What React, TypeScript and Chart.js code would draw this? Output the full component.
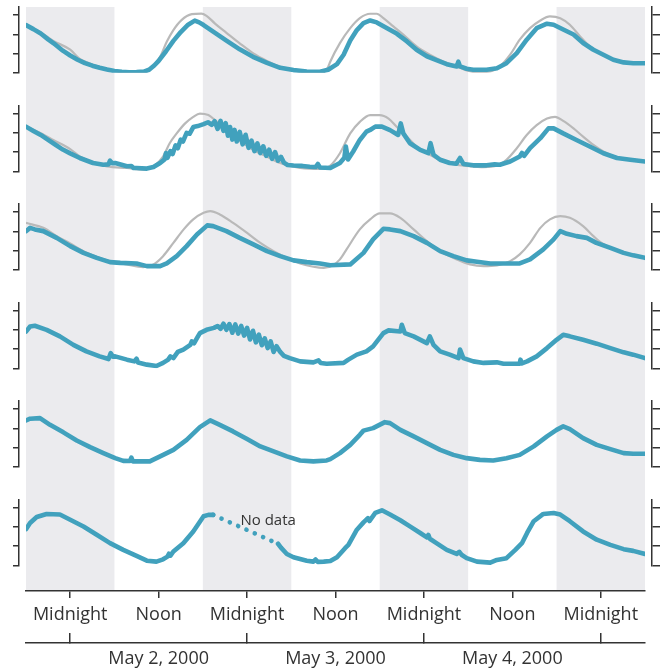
import React, { useEffect, useRef } from 'react';
import { Chart, registerables } from 'chart.js';

Chart.register(...registerables);

// ---------- data (hours from May 2, 2000 00:00; values in panel units) ----------
const HOUR_MIN = -6;
const HOUR_MAX = 78;
const TIME_TICKS = [0, 12, 24, 36, 48, 60, 72];
const TIME_LABELS = ['Midnight', 'Noon', 'Midnight', 'Noon', 'Midnight', 'Noon', 'Midnight'];
const DAY_BOUNDARIES = [0, 24, 48, 72];
const DATE_TICKS = [12, 36, 60];
const DATE_LABELS = ['May 2, 2000', 'May 3, 2000', 'May 4, 2000'];
const NIGHTS = [[-6, 6], [18, 30], [42, 54], [66, 78]];
const PANEL_TICKS = [0, 1, 2, 3];
const PANEL_MAX = 3.42;
const NO_DATA_TEXT = 'No data';
const NO_DATA_AT = [23.1, 2.3];

const P1_TEAL = [[-6,2.48],[-5,2.27],[-4,2.04],[-3,1.74],[-2,1.46],[-1,1.15],[0,0.9],[1,0.68],[2,0.5],[3,0.37],[4,0.26],[5,0.17],[6,0.09],[7,0.05],[8,0.03],[9,0.04],[10,0.06],[10.7,0.16],[11.4,0.38],[12,0.62],[13,1.12],[14,1.66],[15,2.12],[16,2.5],[16.9,2.71],[17.5,2.62],[18.1,2.48],[19.4,2.14],[21.2,1.67],[23,1.22],[24.8,0.83],[26.7,0.52],[28.5,0.26],[30.3,0.14],[32.1,0.07],[33.9,0.05],[35,0.16],[36.2,0.45],[37.1,0.94],[38,1.68],[38.9,2.22],[39.8,2.58],[40.7,2.72],[41.6,2.62],[43,2.32],[44.3,2.04],[45.7,1.63],[47,1.2],[48.4,0.86],[49.7,0.66],[51.1,0.45],[52.45,0.33],[52.67,0.58],[52.9,0.33],[53.8,0.21],[54.7,0.16],[56.5,0.16],[57.9,0.24],[59.2,0.5],[60.6,1.02],[61.95,1.72],[63.3,2.32],[64.7,2.55],[65.6,2.5],[66.9,2.25],[68.3,1.99],[69.6,1.55],[71,1.2],[72.35,0.94],[73.7,0.68],[75.1,0.54],[76.4,0.5],[78,0.5]];
const P1_GREY = [[-6,2.5],[-4,2.1],[-2.3,1.66],[0,1.2],[1.3,0.72],[3.1,0.42],[5,0.19],[6.5,0.06],[7.7,0],[9.9,0.02],[11,0.23],[12.2,0.83],[13.1,1.61],[14,2.22],[15.1,2.74],[16.5,3.05],[17.8,3.08],[18.5,2.96],[19.65,2.56],[21.2,2.08],[23,1.53],[24.85,1.01],[26.7,0.62],[28.5,0.31],[30.3,0.14],[32.1,0.02],[33.9,0],[34.5,0.06],[35,0.3],[35.3,0.59],[36.6,1.54],[38,2.32],[39.3,2.84],[40.7,3.07],[41.6,3.07],[42.5,2.84],[43.85,2.41],[45.2,1.98],[47,1.37],[48.8,0.94],[50.6,0.59],[52.45,0.33],[53.8,0.12],[55.2,0.03],[57,0.07],[58.3,0.33],[59.7,0.94],[61,1.72],[62.4,2.32],[63.8,2.72],[65.1,2.93],[66.5,2.84],[67.8,2.5],[69.2,1.89],[70.5,1.37],[72,0.98],[73.7,0.7],[75.1,0.56],[76.4,0.52],[78,0.52]];

const P2_TEAL = [[-6,2.32],[-5,2.1],[-4,1.89],[-3,1.63],[-2,1.38],[-1,1.13],[0,0.93],[1.3,0.69],[3.1,0.43],[4.5,0.34],[5.2,0.36],[5.4,0.55],[5.7,0.42],[6.1,0.43],[7.7,0.26],[8.3,0.27],[8.6,0.17],[9,0.17],[10.4,0.14],[11.3,0.22],[12.2,0.43],[12.8,0.62],[13,0.95],[13.2,0.7],[13.6,1.05],[13.9,0.9],[14.3,1.35],[14.6,1.2],[15,1.65],[15.3,1.55],[15.8,2],[16.2,1.95],[16.7,2.3],[17.3,2.35],[18.1,2.45],[18.7,2.55],[19.2,2.42],[19.6,2.6],[20,2.2],[20.4,2.62],[20.8,2.1],[21.1,2.5],[21.4,1.85],[21.7,2.3],[22,1.65],[22.3,2.15],[22.6,1.55],[23,2.05],[23.4,1.4],[23.8,1.9],[24.2,1.22],[24.6,1.6],[25,1.05],[25.4,1.45],[25.8,0.95],[26.2,1.3],[26.6,0.8],[27,1.12],[27.4,0.65],[27.8,1],[28.2,0.55],[28.6,0.75],[29,0.45],[29.5,0.33],[30.3,0.3],[31.5,0.28],[32.5,0.24],[33.3,0.22],[33.6,0.38],[33.9,0.2],[35.3,0.17],[36.6,0.43],[37.2,0.7],[37.4,1.29],[37.7,0.62],[38.4,1.03],[39.3,1.63],[40.2,2.06],[40.7,2.15],[41.4,2.32],[42.3,2.32],[43.4,2.14],[44.5,1.89],[44.85,2.49],[45.2,1.97],[46.1,1.46],[47.5,1.11],[48.6,0.94],[48.9,1.46],[49.3,0.86],[50.2,0.6],[51.5,0.43],[52.4,0.39],[52.9,0.69],[53.35,0.38],[54.7,0.31],[56.5,0.31],[57.6,0.36],[58.3,0.34],[59.7,0.51],[61,0.77],[61.3,0.95],[61.6,0.8],[62.4,1.2],[63.8,1.72],[64.9,2.23],[65.6,2.23],[66.9,1.97],[68.7,1.63],[70.5,1.29],[72.35,0.94],[74.2,0.69],[76,0.6],[78,0.51]];
const P2_GREY = [[-6,2.34],[-4,1.98],[-2.3,1.63],[0,1.15],[1.3,0.77],[3.1,0.45],[5,0.26],[7.7,0.17],[9.9,0.09],[11.3,0.26],[12.6,0.77],[13.5,1.46],[14.45,1.97],[15.6,2.49],[16.7,2.83],[17.6,3],[18.75,2.92],[19.65,2.66],[21.2,2.14],[23,1.6],[24.85,1.11],[26.7,0.76],[28.5,0.43],[30.3,0.24],[31.2,0.17],[33.9,0.12],[35.3,0.3],[36.6,0.94],[38,1.97],[39.3,2.57],[40.7,2.92],[42,2.92],[43.2,2.74],[44.3,2.32],[45.7,1.8],[47,1.29],[48.8,0.86],[50.6,0.51],[52.45,0.34],[54.25,0.26],[56.1,0.22],[57.9,0.29],[59.2,0.6],[60.6,1.2],[61.95,1.89],[63.3,2.4],[64.7,2.74],[65.8,2.83],[66.9,2.62],[68.3,2.23],[69.6,1.8],[71,1.37],[72.35,1.03],[74.2,0.72],[76,0.62],[78,0.53]];

const P3_TEAL = [[-6,2.01],[-5.45,2.18],[-4.8,2.1],[-3.65,2.01],[-1.84,1.66],[0,1.23],[1.8,0.88],[3.6,0.62],[5.4,0.4],[6.8,0.36],[9,0.33],[10.4,0.19],[12.2,0.19],[13.1,0.33],[14.45,0.71],[15.8,1.23],[17.2,1.84],[18.6,2.31],[19.4,2.27],[21.2,2.01],[23,1.66],[24.85,1.32],[26.7,0.97],[28.5,0.71],[30.3,0.49],[32.1,0.4],[33.9,0.33],[35.3,0.24],[38,0.28],[39.8,0.88],[41.1,1.58],[42.5,2.13],[43.4,2.1],[44.8,2.01],[46.6,1.75],[48.4,1.4],[50.2,0.97],[52,0.71],[53.8,0.49],[55.2,0.42],[57,0.33],[61,0.33],[62.4,0.54],[64.2,1.06],[65.6,1.58],[66.5,2.01],[67.4,1.87],[68.7,1.75],[70.1,1.66],[71.4,1.4],[73.3,1.14],[75.1,0.88],[76.4,0.75],[78,0.62]];
const P3_GREY = [[-6,2.44],[-3.65,2.18],[-1.84,1.75],[0,1.37],[1.8,0.97],[3.6,0.68],[5.4,0.45],[7.7,0.28],[9.9,0.14],[11.3,0.28],[12.6,0.71],[14,1.4],[15.4,2.1],[16.7,2.62],[18.1,2.96],[19,3.05],[20.3,2.88],[22.1,2.44],[24,1.92],[25.8,1.4],[27.6,0.97],[29.4,0.62],[31.2,0.33],[33,0.16],[34.4,0.1],[35.7,0.25],[36.6,0.54],[37.5,1.06],[39.3,2.1],[40.7,2.62],[42,2.93],[43.4,2.93],[44.8,2.7],[46.6,2.1],[48.4,1.49],[50.2,0.97],[52.45,0.54],[54.25,0.28],[56.1,0.19],[57.9,0.23],[59.7,0.45],[61,0.8],[62.4,1.4],[63.8,2.18],[65.1,2.62],[66.5,2.79],[67.8,2.7],[69.6,2.27],[71,1.75],[71.9,1.45],[73.3,1.16],[75.1,0.9],[76.4,0.76],[78,0.63]];

const P4_TEAL = [[-6,1.91],[-5.45,2.17],[-4.8,2.21],[-3.2,2],[-1.4,1.66],[0.43,1.22],[2.2,0.88],[4,0.62],[5.2,0.48],[5.5,0.79],[5.8,0.6],[6.1,0.62],[7.7,0.45],[8.7,0.36],[9,0.5],[9.2,0.3],[10.4,0.19],[11.7,0.12],[12.6,0.28],[13.3,0.45],[13.6,0.62],[14,0.53],[14.6,0.85],[15.35,0.97],[16.3,1.22],[16.5,1.4],[16.8,1.3],[17.2,1.57],[17.6,1.83],[18.5,2],[19.5,2.1],[20,2.2],[20.4,2.05],[20.8,2.32],[21.2,2],[21.6,2.3],[22,1.85],[22.4,2.28],[22.8,1.8],[23.2,2.2],[23.6,1.7],[24,2.1],[24.4,1.5],[24.8,1.95],[25.2,1.35],[25.6,1.75],[26,1.2],[26.4,1.55],[26.8,1.05],[27.2,1.4],[27.6,0.85],[28,1.15],[28.5,0.85],[29,0.65],[29.8,0.53],[31.2,0.36],[33,0.31],[33.7,0.41],[34,0.28],[34.8,0.24],[37.1,0.28],[37.75,0.45],[38.9,0.71],[40.2,0.88],[41.1,1.14],[42.5,1.83],[43.2,1.97],[44.8,1.91],[45,2.26],[45.4,1.83],[46.6,1.66],[48.4,1.31],[48.8,1.66],[49.3,1.22],[50.2,0.88],[51.5,0.71],[52.7,0.53],[52.9,0.97],[53.35,0.53],[54.7,0.36],[56.1,0.28],[57.9,0.31],[58.8,0.24],[61,0.24],[61.1,0.45],[61.3,0.26],[62,0.36],[63.3,0.62],[64.7,1.05],[66,1.48],[66.9,1.74],[67.8,1.66],[69.6,1.48],[71.45,1.28],[73.3,1.05],[75.1,0.83],[76.4,0.71],[78,0.53]];

const P5_TEAL = [[-6,2.41],[-5.45,2.5],[-4.1,2.53],[-2.74,2.18],[-0.93,1.79],[0.88,1.37],[2.7,1.02],[4.5,0.71],[6.1,0.45],[7.2,0.31],[8.1,0.3],[8.3,0.48],[8.5,0.28],[10.8,0.28],[12.2,0.54],[14,0.88],[15.8,1.4],[17.6,2.06],[19,2.41],[20.3,2.18],[22.1,1.84],[24,1.44],[25.8,1.06],[27.6,0.8],[29.4,0.54],[31.2,0.33],[33,0.28],[34.8,0.33],[35.3,0.4],[36.6,0.71],[38,1.14],[39.3,1.66],[39.8,1.88],[41.1,2.01],[42.7,2.32],[43.4,2.27],[44.8,1.92],[46.6,1.58],[48.4,1.23],[50.2,0.88],[52,0.62],[53.8,0.45],[55.6,0.36],[57.4,0.33],[59.2,0.45],[61,0.62],[62.9,1.06],[64.7,1.58],[66,1.92],[66.9,2.1],[67.8,1.96],[69.6,1.49],[71.45,1.14],[73.3,0.92],[75.1,0.71],[76.4,0.68],[78,0.68]];

const P6_TEAL = [[-6,1.88],[-5.45,2.2],[-4.55,2.51],[-3.2,2.67],[-1.4,2.64],[0,2.37],[1.8,2.02],[3.6,1.59],[5.4,1.15],[7.2,0.8],[9,0.49],[10.4,0.24],[11.7,0.19],[12.6,0.31],[13.2,0.45],[13.4,0.6],[13.6,0.5],[14,0.72],[15.35,1.15],[16.7,1.76],[18.1,2.55],[18.75,2.62],[19.4,2.62],[24,null],[28.2,1.12],[28.6,0.92],[29.4,0.59],[30.3,0.42],[32.1,0.24],[33,0.19],[33.3,0.3],[33.6,0.18],[34.4,0.19],[35.3,0.22],[36.2,0.42],[37.3,0.89],[37.75,1.06],[38.9,1.85],[39.8,2.23],[40.4,2.45],[40.6,2.3],[41.4,2.72],[42.3,2.86],[43.4,2.64],[44.8,2.34],[46.1,2.02],[47.5,1.68],[48.4,1.45],[48.6,1.58],[48.8,1.38],[49.7,1.15],[51.1,0.8],[52.45,0.59],[52.8,0.7],[53.1,0.55],[53.8,0.37],[55.2,0.19],[57,0.14],[57.9,0.28],[59.2,0.37],[60.4,0.8],[61.3,1.15],[62,1.68],[62.9,2.29],[64.2,2.67],[65.6,2.72],[66.5,2.64],[67.8,2.29],[69.6,1.76],[71.45,1.33],[73.3,1.06],[75.1,0.84],[76.4,0.75],[78,0.59]];

const PANEL_TEAL = [P1_TEAL, P2_TEAL, P3_TEAL, P4_TEAL, P5_TEAL, P6_TEAL];
const PANEL_GREY = [P1_GREY, P2_GREY, P3_GREY, null, null, null];

// ---------- styles ----------
const TEAL = '#41a1bd';
const GREY = '#b9b9b9';
const NIGHT_FILL = '#ebebee';
const AXIS = '#333333';
const TEXT = '#333333';
const FONT = "'Open Sans', 'Noto Sans', sans-serif";
const PANEL_H = 65.8;
const PANEL_GAP = 32.7;
const BOTTOM_GAP = 25.7;
const GAP_DASH = [0.1, 9];

const toXY = (pts: any[]) => pts.map(([x, y]) => ({ x, y }));

function panelAxis(side: string, weight: number, tl: number) {
  return {
    type: 'linear', position: side, stack: 'panels', stackWeight: PANEL_H, weight,
    min: 0, max: PANEL_MAX,
    afterBuildTicks: (s: any) => { s.ticks = PANEL_TICKS.map((value) => ({ value })); },
    afterFit: (s: any) => { s.width = tl; },
    border: { display: true, color: AXIS, width: 1.5 },
    grid: { display: true, drawOnChartArea: false, drawTicks: true, tickLength: tl, color: AXIS, lineWidth: 1.5 },
    ticks: { display: false },
  };
}

function spacerAxis(side: string, weight: number, w: number, stackWeight?: number) {
  const base: any = {
    type: 'linear', position: side, weight, min: 0, max: 1,
    afterFit: (s: any) => { s.width = w; },
    border: { display: false },
    grid: { display: false },
    ticks: { display: false },
  };
  if (stackWeight !== undefined) { base.stack = 'panels'; base.stackWeight = stackWeight; }
  return base;
}

function buildScales() {
  const scales: any = {
    x: {
      type: 'linear', position: 'bottom', weight: 0, min: HOUR_MIN, max: HOUR_MAX,
      afterBuildTicks: (s: any) => { s.ticks = TIME_TICKS.map((value) => ({ value })); },
      afterFit: (s: any) => { s.height = 52; },
      border: { display: true, color: AXIS, width: 1.5 },
      grid: { display: true, drawOnChartArea: false, drawTicks: true, tickLength: 7, color: AXIS, lineWidth: 1.5 },
      ticks: {
        autoSkip: false, maxRotation: 0, minRotation: 0, padding: 6, color: TEXT,
        font: { family: FONT, size: 18 },
        callback: (_v: any, i: number) => TIME_LABELS[i],
      },
    },
    x2: {
      type: 'linear', position: 'bottom', weight: 1, min: HOUR_MIN, max: HOUR_MAX,
      afterBuildTicks: (s: any) => {
        s.ticks = DAY_BOUNDARIES.concat(DATE_TICKS).sort((a, b) => a - b).map((value) => ({ value }));
      },
      afterFit: (s: any) => { s.height = 29; },
      border: { display: true, color: AXIS, width: 1.5 },
      grid: {
        display: true, drawOnChartArea: false, drawTicks: true, tickLength: -10, lineWidth: 1.5,
        color: AXIS,
        tickColor: (c: any) => (c.tick && DAY_BOUNDARIES.includes(c.tick.value) ? AXIS : 'rgba(0,0,0,0)'),
      },
      ticks: {
        autoSkip: false, maxRotation: 0, minRotation: 0, padding: 15, color: TEXT,
        font: { family: FONT, size: 18 },
        callback: (v: any) => {
          const j = DATE_TICKS.indexOf(Number(v));
          return j >= 0 ? DATE_LABELS[j] : '';
        },
      },
    },
    padL: spacerAxis('left', 0, 7),
    padR: spacerAxis('right', 0, 7),
  };
  const sides: [string, string, number][] = [['left', 'L', 6], ['right', 'R', 8]];
  for (const [side, prefix, tl] of sides) {
    let order = 0;
    for (let k = 0; k < 6; k++) {
      const w1 = side === 'left' ? 100 - order : 10 + order;
      scales[prefix + k] = panelAxis(side, w1, tl);
      order++;
      const w2 = side === 'left' ? 100 - order : 10 + order;
      scales[prefix + 'gap' + k] = spacerAxis(side, w2, tl, k < 5 ? PANEL_GAP : BOTTOM_GAP);
      order++;
    }
  }
  return scales;
}

function buildDatasets() {
  const sets: any[] = [];
  PANEL_TEAL.forEach((pts, k) => {
    sets.push({
      data: toXY(pts), yAxisID: 'L' + k, xAxisID: 'x', order: 0,
      borderColor: TEAL, borderWidth: 4.6, pointRadius: 0, borderCapStyle: 'round', borderJoinStyle: 'round',
      tension: 0, spanGaps: true,
      segment: { borderDash: (c: any) => (c.p0.skip || c.p1.skip ? GAP_DASH : undefined) },
    });
    const g = PANEL_GREY[k];
    if (g) {
      sets.push({
        data: toXY(g), yAxisID: 'L' + k, xAxisID: 'x', order: 1,
        borderColor: GREY, borderWidth: 2.2, pointRadius: 0, cubicInterpolationMode: 'monotone',
      });
    }
  });
  return sets;
}

const nightPlugin = {
  id: 'nightBands',
  beforeDraw(chart: any) {
    const { ctx, chartArea } = chart;
    const x = chart.scales.x;
    ctx.save();
    ctx.fillStyle = NIGHT_FILL;
    for (const [a, b] of NIGHTS) {
      const x0 = x.getPixelForValue(a);
      const x1 = x.getPixelForValue(b);
      ctx.fillRect(x0, chartArea.top, x1 - x0, chartArea.bottom - chartArea.top);
    }
    ctx.restore();
  },
};

const noDataPlugin = {
  id: 'noDataLabel',
  afterDatasetsDraw(chart: any) {
    const x = chart.scales.x;
    const y = chart.scales.L5;
    const ctx = chart.ctx;
    ctx.save();
    ctx.font = `15px ${FONT}`;
    ctx.fillStyle = TEXT;
    ctx.textAlign = 'left';
    ctx.textBaseline = 'middle';
    ctx.fillText(NO_DATA_TEXT, x.getPixelForValue(NO_DATA_AT[0]), y.getPixelForValue(NO_DATA_AT[1]));
    ctx.restore();
  },
};

export default function App() {
  const ref = useRef<HTMLCanvasElement | null>(null);
  useEffect(() => {
    document.body.style.margin = '0';
    const canvas = ref.current;
    if (!canvas) return;
    const chart = new Chart(canvas, {
      type: 'line',
      data: { datasets: buildDatasets() },
      options: {
        responsive: false,
        animation: false,
        events: [],
        layout: { padding: { left: 13, right: 7, top: 7, bottom: 0 } },
        plugins: { legend: { display: false }, tooltip: { enabled: false } },
        scales: buildScales(),
      } as any,
      plugins: [nightPlugin, noDataPlugin],
    });
    return () => chart.destroy();
  }, []);
  return (
    <div style={{ position: 'absolute', left: 0, top: 0 }}>
      <canvas ref={ref} width={667} height={672} style={{ display: 'block', width: 667, height: 672 }} />
    </div>
  );
}
